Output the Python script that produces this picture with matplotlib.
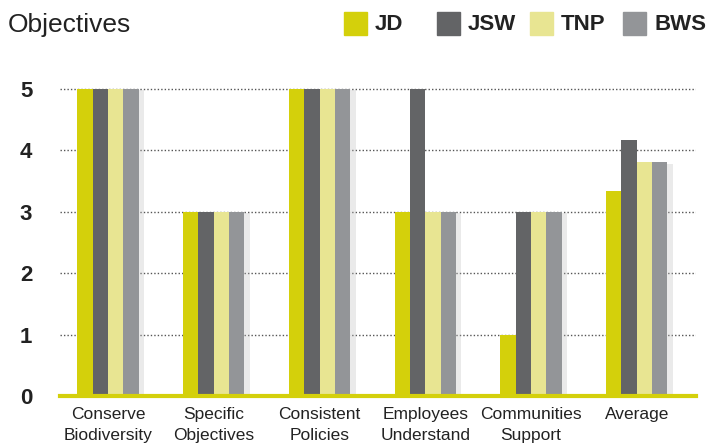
import matplotlib
matplotlib.use("Agg")
import matplotlib.pyplot as plt
import matplotlib.patheffects as pe
from matplotlib.patches import Rectangle
import numpy as np

plt.rcParams['font.family'] = ['Liberation Sans', 'DejaVu Sans']

# Scores per objective for each site
categories = ["Conserve\nBiodiversity", "Specific\nObjectives", "Consistent\nPolicies",
              "Employees\nUnderstand", "Communities\nSupport", "Average"]
series_names = ["JD", "JSW", "TNP", "BWS"]
jd = [5, 3, 5, 3, 1, 3.33]
jsw = [5, 3, 5, 5, 3, 4.17]
tnp = [5, 3, 5, 3, 3, 3.8]
bws = [5, 3, 5, 3, 3, 3.8]
yticks = [0, 1, 2, 3, 4, 5]

colors = ["#d4d00b", "#636466", "#e8e592", "#939598"]
values = [jd, jsw, tnp, bws]

fig = plt.figure(figsize=(7.17, 4.44), dpi=100)
ax = fig.add_axes([60 / 717, 1 - 396 / 444, 636 / 717, (396 - 58) / 444])

x = np.arange(len(categories))
w = 0.145
shadow = [pe.SimplePatchShadow(offset=(4, -1), shadow_rgbFace="#bbbbbb", alpha=0.3), pe.Normal()]
for i, (vals, c) in enumerate(zip(values, colors)):
    ax.bar(x + (i - 1.5) * w, vals, width=w, color=c, zorder=3,
           path_effects=shadow if i == 3 else None)

ax.set_xlim(-0.454, 5.56)
ax.set_ylim(0, 5.5)
for yv in yticks[1:]:
    ax.axhline(yv, color="#555555", lw=1.0, ls=(0, (1, 1.5)), zorder=1)
ax.axhline(0, color="#d4d00b", lw=3, zorder=4, clip_on=False)

for s in ax.spines.values():
    s.set_visible(False)
ax.set_yticks(yticks)
ax.set_yticklabels([str(t) for t in yticks], fontsize=16, fontweight="bold", color="#222222")
ax.set_xticks(x)
ax.set_xticklabels(categories, fontsize=12.5, color="#222222", linespacing=1.45)
ax.tick_params(axis="both", length=0)
ax.tick_params(axis="y", pad=20)
ax.tick_params(axis="x", pad=8)

fig.text(8 / 717, 1 - 25 / 444, "Objectives", fontsize=19, color="#222222", va="center")

# legend drawn along the top
legend_x = [344, 437, 530, 623]
for lx, name, c in zip(legend_x, series_names, colors):
    fig.patches.append(Rectangle((lx / 717, 1 - 35 / 444), 23 / 717, 23 / 444,
                                 transform=fig.transFigure, color=c))
    fig.text((lx + 31) / 717, 1 - 24 / 444, name, fontsize=16, fontweight="bold",
             color="#222222", va="center")

fig.savefig("out.png", dpi=100)
